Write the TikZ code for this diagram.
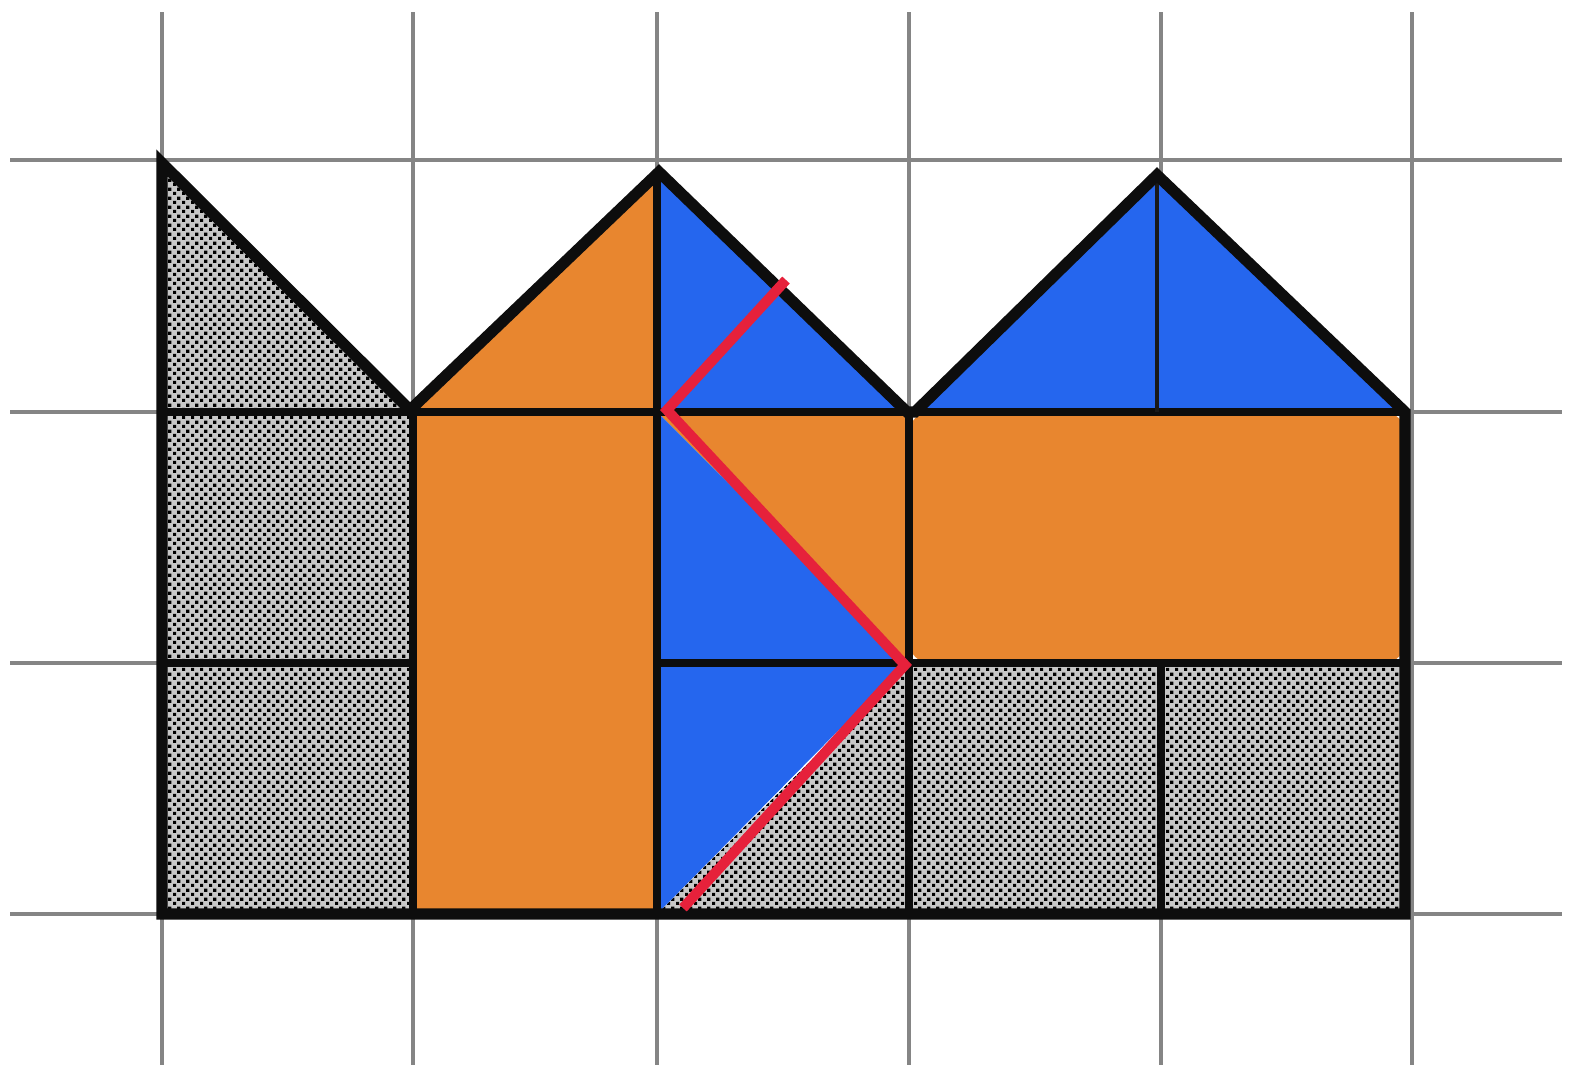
\documentclass[tikz,border=0pt]{standalone}
\usetikzlibrary{patterns}
\pgfdeclarepatternformonly{checkdots}{\pgfpointorigin}{\pgfqpoint{2.6pt}{2.6pt}}{\pgfqpoint{2.6pt}{2.6pt}}{%
  \pgfpathrectangle{\pgfpointorigin}{\pgfqpoint{1.0pt}{1.0pt}}%
  \pgfpathrectangle{\pgfqpoint{1.3pt}{1.3pt}}{\pgfqpoint{1.0pt}{1.0pt}}%
  \pgfusepath{fill}}
\definecolor{orng}{HTML}{E8862F}
\definecolor{blu}{HTML}{2566EE}
\definecolor{redl}{HTML}{E6213B}
\definecolor{gridg}{HTML}{858585}
\tikzset{
  gridline/.style={draw=gridg, line width=1.4pt},
  hatchfill/.style={preaction={fill=black!22}, pattern=checkdots, pattern color=black},
  orfill/.style={fill=orng},
  blfill/.style={fill=blu},
  outer/.style={draw=black!95, line width=3.2pt, line join=miter},
  inner/.style={draw=black!95, line width=2.1pt},
  thinner/.style={draw=black!90, line width=1.4pt},
  redline/.style={draw=redl, line width=2.9pt, line join=miter}
}
\begin{document}
\begin{tikzpicture}[x=0.01cm, y=-0.01cm]
\useasboundingbox (0,0) rectangle (1569,1069);
% grid
\foreach \gx in {162,413,657,909,1161,1412} \draw[gridline] (\gx,12) -- (\gx,1065);
\foreach \gy in {160,412,663,914} \draw[gridline] (10,\gy) -- (1562,\gy);
% hatched fills
\path[hatchfill] (162,163) -- (410,412) -- (162,412) -- cycle;
\path[hatchfill] (162,412) rectangle (413,914);
\path[hatchfill] (909,663) -- (909,914) -- (657,914) -- cycle;
\path[hatchfill] (909,663) rectangle (1405,914);
% orange fills
\path[orfill] (413,412) -- (659,172) -- (659,412) -- cycle;
\path[orfill] (413,412) rectangle (657,914);
\path[orfill] (657,412) -- (909,412) -- (909,663) -- cycle;
\path[orfill, rounded corners=6pt] (909,412) rectangle (1405,663);
% blue fills
\path[blfill] (659,172) -- (907,412) -- (657,412) -- cycle;
\path[blfill] (657,412) -- (909,663) -- (657,663) -- cycle;
\path[blfill] (657,663) -- (905,663) -- (657,914) -- cycle;
\path[blfill] (915,412) -- (1157,175) -- (1402,412) -- cycle;
% inner lines
\draw[inner] (162,412) -- (1405,412);
\draw[inner] (162,663) -- (413,663);
\draw[inner] (657,663) -- (1405,663);
\draw[inner] (413,412) -- (413,914);
\draw[inner] (657,172) -- (657,914);
\draw[inner] (909,412) -- (909,914);
\draw[thinner] (1157,175) -- (1157,412);
\draw[inner] (1161,663) -- (1161,914);
% outline
\draw[outer] (162,163) -- (410,410) -- (659,172) -- (907,412) -- (915,412)
  -- (1157,175) -- (1405,412) -- (1405,914) -- (162,914) -- cycle;
% red zigzag
\coordinate (r1) at (786,280);
\coordinate (r2) at (667,410);
\coordinate (r3) at (905,665);
\coordinate (r4) at (683,908);
\draw[redline] (r1) -- (r2) -- (r3) -- (r4);
\end{tikzpicture}
\end{document}
